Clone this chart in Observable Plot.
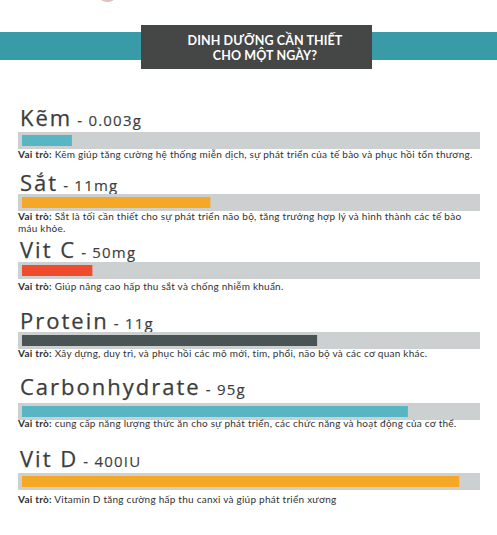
<!DOCTYPE html>
<html><head><meta charset="utf-8">
<script src="https://cdn.jsdelivr.net/npm/d3@7"></script>
<script src="https://cdn.jsdelivr.net/npm/@observablehq/plot@0.6"></script>
<style>
html,body{margin:0;padding:0;background:#fff;}
#root{position:relative;width:497px;height:535px;overflow:hidden;background:#fff;font-family:"Open Sans",sans-serif;}
.abs{position:absolute;}
.title{color:#3b3d3d;font-size:22px;line-height:22px;white-space:nowrap;letter-spacing:2px;-webkit-text-stroke:0.25px #3b3d3d;}
.title .amt{font-size:15px;letter-spacing:1.2px;-webkit-text-stroke:0.15px #3b3d3d;}
.desc{color:#2f3131;font-family:Lato,sans-serif;font-size:10px;line-height:10px;white-space:nowrap;left:18px;letter-spacing:0.25px;}
.desc b{font-weight:700;}
.hline{left:141px;width:231px;text-align:center;color:#fff;font-family:Lato,sans-serif;font-weight:700;font-size:12.5px;line-height:13px;box-sizing:border-box;padding-left:17px;letter-spacing:0.1px;}
</style>
</head><body>
<div id="root"></div>
<script>
// ---- data ----
const names = ["Kẽm", "Sắt", "Vit C", "Protein", "Carbonhydrate", "Vit D"];
const amounts = ["0.003g", "11mg", "50mg", "11g", "95g", "400IU"];
const shares = [11, 41.5, 15.5, 65, 85, 96.3]; // bar fill, % of track
const roles = [
  ["Kẽm giúp tăng cường hệ thống miễn dịch, sự phát triển của tế bào và phục hồi tổn thương."],
  ["Sắt là tối cần thiết cho sự phát triển não bộ, tăng trưởng hợp lý và hình thành các tế bào", "máu khỏe."],
  ["Giúp nâng cao hấp thu sắt và chống nhiễm khuẩn."],
  ["Xây dựng, duy trì, và phục hồi các mô mới, tim, phổi, não bộ và các cơ quan khác."],
  ["cung cấp năng lượng thức ăn cho sự phát triển, các chức năng và hoạt động của cơ thể."],
  ["Vitamin D tăng cường hấp thu canxi và giúp phát triển xương"]
];
const colors = ["#58b5c4", "#f4a826", "#ee4c2c", "#4b5454", "#58b5c4", "#f4a826"];
const heading = ["DINH DƯỠNG CẦN THIẾT", "CHO MỘT NGÀY?"];
const roleLabel = "Vai trò:";

// ---- layout (pixel positions of each row block) ----
const titleBase = [125.7, 190, 257.8, 328.3, 394, 466.7];
const trackTop  = [131.5, 194.3, 262.3, 332.3, 403, 472.5];
const descBase  = [158.3, 220, 290, 357.3, 426.7, 503.3];
const trackColor = "#cdd0d0";

const root = document.getElementById("root");

// logo remnant at top
const logo = document.createElement("div");
logo.className = "abs";
logo.style.cssText = "left:101px;top:-4px;width:13px;height:6px;border-radius:50%;background:#d9a3a3;opacity:0.7;";
root.appendChild(logo);

// header band + box
const band = document.createElement("div");
band.className = "abs";
band.style.cssText = "left:0;top:32px;width:497px;height:28px;background:#3a9ba8;";
root.appendChild(band);
const box = document.createElement("div");
box.className = "abs";
box.style.cssText = "left:141px;top:24.5px;width:231px;height:44px;background:#454646;";
root.appendChild(box);
heading.forEach((h, k) => {
  const l = document.createElement("div");
  l.className = "abs hline";
  l.style.top = (33.8 + k * 15) + "px";
  l.textContent = h;
  root.appendChild(l);
});

names.forEach((n, i) => {
  // title
  const t = document.createElement("div");
  t.className = "abs title";
  t.style.left = "20px";
  t.style.top = (titleBase[i] - 19.5) + "px";
  t.innerHTML = `${n}<span class="amt"> - ${amounts[i]}</span>`;
  root.appendChild(t);

  // bar
  const chart = Plot.plot({
    width: 497,
    height: 17,
    marginTop: 0, marginBottom: 0,
    marginLeft: 22, marginRight: 21,
    x: {domain: [0, 100], axis: null},
    y: {axis: null},
    marks: [
      Plot.barX([100], {x1: 0, x2: d => d, fill: trackColor, insetLeft: -4, insetRight: -4}),
      Plot.barX([shares[i]], {x: d => d, fill: colors[i], insetTop: 3, insetBottom: 3})
    ]
  });
  const wrap = document.createElement("div");
  wrap.className = "abs";
  wrap.style.left = "0px";
  wrap.style.top = trackTop[i] + "px";
  wrap.appendChild(chart);
  root.appendChild(wrap);

  // description (one div per line)
  roles[i].forEach((line, k) => {
    const d = document.createElement("div");
    d.className = "abs desc";
    d.style.top = (descBase[i] - 8.9 + k * 12) + "px";
    d.innerHTML = (k === 0 ? `<b>${roleLabel}</b> ` : "") + line;
    root.appendChild(d);
  });
});
</script>
</body></html>
